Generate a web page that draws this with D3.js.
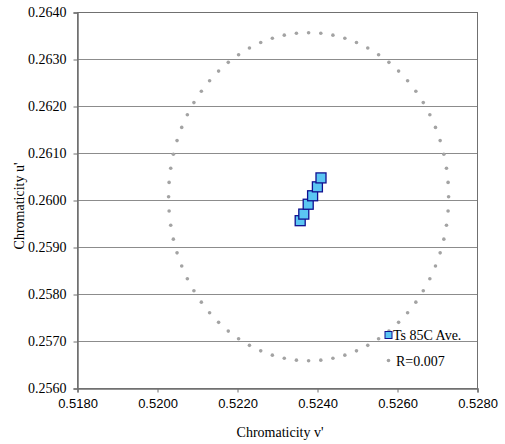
<!DOCTYPE html>
<html>
<head>
<meta charset="utf-8">
<script src="https://cdn.jsdelivr.net/npm/d3@7"></script>
<style>
  body { margin: 0; background: #fff; }
  svg { display: block; }
</style>
</head>
<body>
<svg id="chart"></svg>
<script>
// Ts 85C average points (v', u')
const tsV = [0.52410, 0.52401, 0.52389, 0.52378, 0.52367, 0.52358];
const tsU = [0.26047, 0.26028, 0.26009, 0.25991, 0.25970, 0.25956];

// R=0.007 ring, dots read around the circle
const ringV = [
  0.527290, 0.527277, 0.527237, 0.527171, 0.527079, 0.526962, 0.526821, 0.526657, 0.526471,
  0.526265, 0.526040, 0.525798, 0.525540, 0.525269, 0.524987, 0.524696, 0.524398, 0.524095,
  0.523790, 0.523485, 0.523182, 0.522884, 0.522593, 0.522311, 0.522040, 0.521782, 0.521540,
  0.521315, 0.521109, 0.520923, 0.520759, 0.520618, 0.520501, 0.520409, 0.520343, 0.520303,
  0.520290, 0.520303, 0.520343, 0.520409, 0.520501, 0.520618, 0.520759, 0.520923, 0.521109,
  0.521315, 0.521540, 0.521782, 0.522040, 0.522311, 0.522593, 0.522884, 0.523182, 0.523485,
  0.523790, 0.524095, 0.524398, 0.524696, 0.524987, 0.525269, 0.525540, 0.525798, 0.526040,
  0.526265, 0.526471, 0.526657, 0.526821, 0.526962, 0.527079, 0.527171, 0.527237, 0.527277
];
const ringU = [
  0.260070, 0.260374, 0.260676, 0.260973, 0.261264, 0.261545, 0.261815, 0.262072, 0.262313,
  0.262538, 0.262743, 0.262929, 0.263092, 0.263233, 0.263350, 0.263441, 0.263507, 0.263547,
  0.263560, 0.263547, 0.263507, 0.263441, 0.263350, 0.263233, 0.263092, 0.262929, 0.262743,
  0.262538, 0.262313, 0.262072, 0.261815, 0.261545, 0.261264, 0.260973, 0.260676, 0.260374,
  0.260070, 0.259766, 0.259464, 0.259167, 0.258876, 0.258595, 0.258325, 0.258068, 0.257827,
  0.257602, 0.257397, 0.257211, 0.257048, 0.256907, 0.256790, 0.256699, 0.256633, 0.256593,
  0.256580, 0.256593, 0.256633, 0.256699, 0.256790, 0.256907, 0.257048, 0.257211, 0.257397,
  0.257602, 0.257827, 0.258068, 0.258325, 0.258595, 0.258876, 0.259167, 0.259464, 0.259766
];

const xTicks = [0.5180, 0.5200, 0.5220, 0.5240, 0.5260, 0.5280];
const yTicks = [0.2560, 0.2570, 0.2580, 0.2590, 0.2600, 0.2610, 0.2620, 0.2630, 0.2640];
const legendLabels = ["Ts 85C Ave.", "R=0.007"];

const SERIF = '"Liberation Serif", "Times New Roman", serif';
const SANS = '"Liberation Sans", Arial, sans-serif';

const W = 505, H = 444;
const margin = {top: 12, right: 28, bottom: 56, left: 77};

const svg = d3.select("#chart").attr("width", W).attr("height", H);
svg.append("rect").attr("width", W).attr("height", H).attr("fill", "#fff");

const x = d3.scaleLinear().domain([0.5180, 0.5280]).range([margin.left, W - margin.right]);
const y = d3.scaleLinear().domain([0.2560, 0.2640]).range([H - margin.bottom, margin.top]);

// gridlines
svg.append("g")
    .selectAll("line")
    .data(yTicks)
    .join("line")
    .attr("x1", x(0.5180)).attr("x2", x(0.5280))
    .attr("y1", d => Math.round(y(d)) + 0.5).attr("y2", d => Math.round(y(d)) + 0.5)
    .attr("stroke", "#8c8c8c").attr("stroke-width", 1);

// plot frame
svg.append("rect")
    .attr("x", Math.round(x(0.5180)) + 0.5).attr("y", Math.round(y(0.2640)) + 0.5)
    .attr("width", Math.round(x(0.5280)) - Math.round(x(0.5180)))
    .attr("height", Math.round(y(0.2560)) - Math.round(y(0.2640)))
    .attr("fill", "none").attr("stroke", "#707070");

// axes
const xAxis = svg.append("g")
    .attr("transform", `translate(0.5,${Math.round(y(0.2560)) + 0.5})`)
    .call(d3.axisBottom(x).tickValues(xTicks).tickFormat(d3.format(".4f")).tickSize(4).tickPadding(6));
xAxis.select(".domain").attr("stroke", "#707070").attr("stroke-width", 1.5);
xAxis.selectAll(".tick line").attr("stroke", "#707070");
xAxis.selectAll("text")
    .style("font-family", SANS)
    .style("font-size", "13px").attr("fill", "#000");

const yAxis = svg.append("g")
    .attr("transform", `translate(${Math.round(x(0.5180)) + 0.5},0.5)`)
    .call(d3.axisLeft(y).tickValues(yTicks).tickFormat(d3.format(".4f")).tickSize(4).tickPadding(7));
yAxis.select(".domain").attr("stroke", "#707070").attr("stroke-width", 1.5);
yAxis.selectAll(".tick line").attr("stroke", "#707070");
yAxis.selectAll("text")
    .style("font-family", SERIF)
    .style("font-size", "14px").attr("fill", "#000");

// ring dots
const ring = ringV.map((v, i) => ({v, u: ringU[i]}));
svg.append("g")
    .selectAll("circle")
    .data(ring)
    .join("circle")
    .attr("cx", d => x(d.v)).attr("cy", d => y(d.u))
    .attr("r", 1.8)
    .attr("fill", "#a3a3a3");

// Ts 85C squares
const ts = tsV.map((v, i) => ({v, u: tsU[i]}));
const sq = 10;
svg.append("g")
    .selectAll("rect")
    .data(ts.slice().reverse())
    .join("rect")
    .attr("x", d => x(d.v) - sq / 2).attr("y", d => y(d.u) - sq / 2)
    .attr("width", sq).attr("height", sq)
    .attr("fill", "#5bc6f3")
    .attr("stroke", "#101090").attr("stroke-width", 1.3);

// legend
const lg = svg.append("g");
lg.append("rect").attr("x", 385).attr("y", 331.5).attr("width", 7).attr("height", 7)
    .attr("fill", "#5bc6f3").attr("stroke", "#101090").attr("stroke-width", 1);
lg.append("text").attr("x", 393).attr("y", 340)
    .style("font-family", SERIF).style("font-size", "14px").text(legendLabels[0]);
lg.append("circle").attr("cx", 388.5).attr("cy", 360.5).attr("r", 1.8).attr("fill", "#a3a3a3");
lg.append("text").attr("x", 396).attr("y", 365.5)
    .style("font-family", SERIF).style("font-size", "14px").text(legendLabels[1]);

// axis titles
svg.append("text")
    .attr("x", 280).attr("y", 437)
    .attr("text-anchor", "middle")
    .style("font-family", SERIF).style("font-size", "14px")
    .text("Chromaticity  v'");

svg.append("text")
    .attr("transform", "translate(24,206) rotate(-90)")
    .attr("text-anchor", "middle")
    .style("font-family", SERIF).style("font-size", "14px")
    .text("Chromaticity  u'");
</script>
</body>
</html>
